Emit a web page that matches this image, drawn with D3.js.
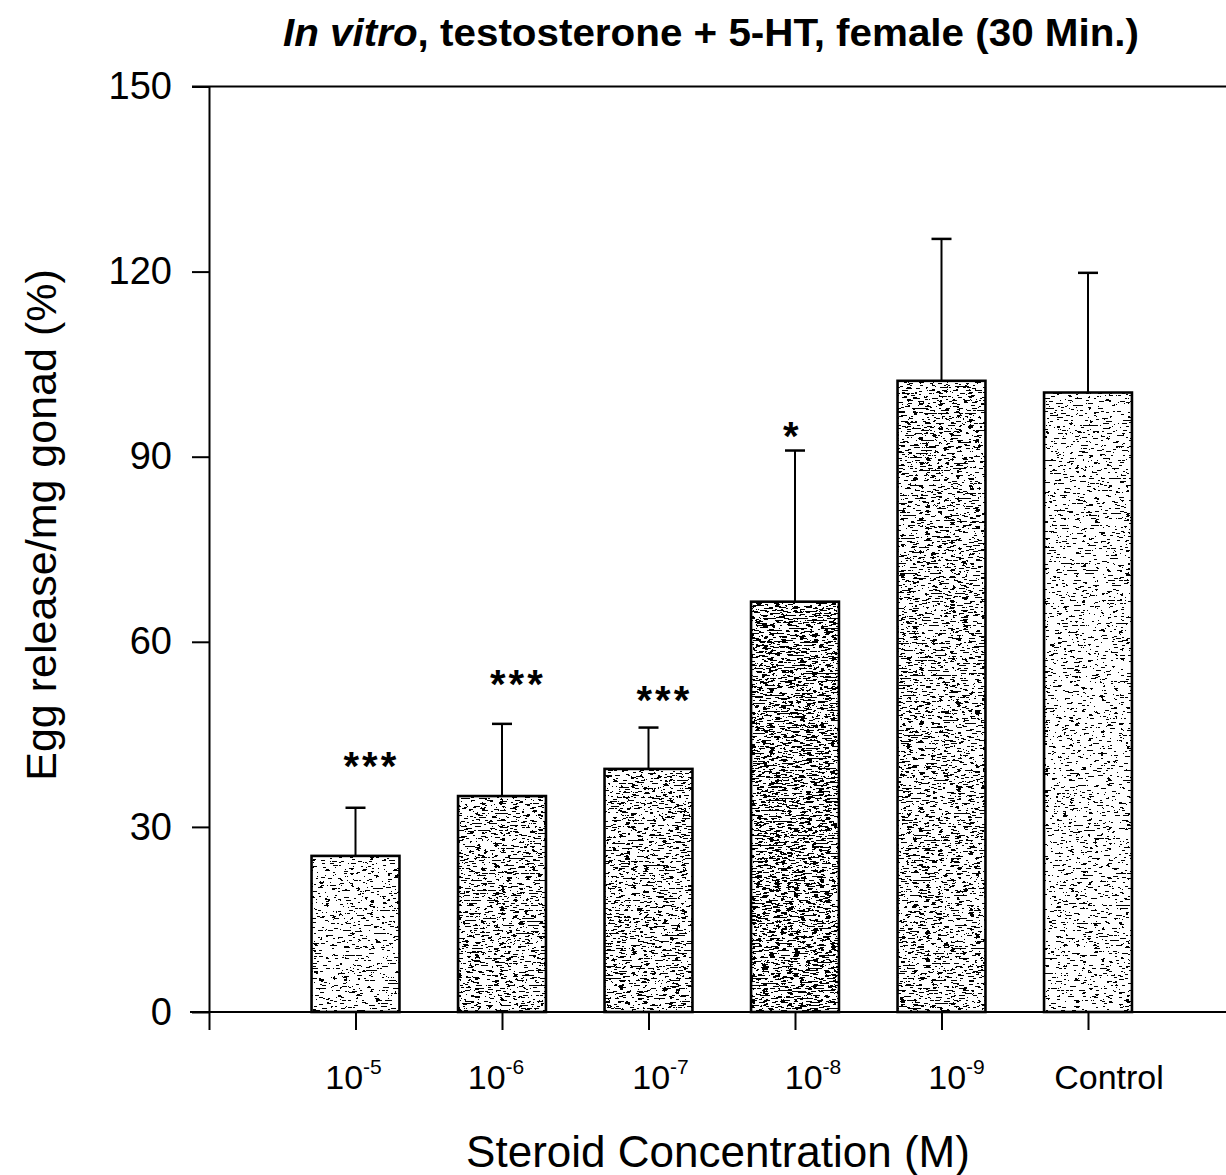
<!DOCTYPE html>
<html><head><meta charset="utf-8">
<script src="https://cdn.jsdelivr.net/npm/d3@7"></script>
<style>body{margin:0;background:#fff}svg{display:block}</style>
</head><body>
<svg id="chart" width="1226" height="1175"></svg>
<script>
// ---- data ----
const categories = ["10^-5", "10^-6", "10^-7", "10^-8", "10^-9", "Control"];
const tickBase = ["10", "10", "10", "10", "10", "Control"];
const tickExp = ["-5", "-6", "-7", "-8", "-9", ""];
const means = [25.3, 35.0, 39.4, 66.5, 102.3, 100.4];
const errors = [7.8, 11.7, 6.7, 24.5, 23.0, 19.4];
const stars = ["***", "***", "***", "*", "", ""];
const starLevels = [41.2, 54.5, 51.9, 94.7, null, null];
const yTicks = [0, 30, 60, 90, 120, 150];

// ---- styling (not data) ----
const labelNudge = [-2, -6, 12, 18, 15, 21];          // hand-placed label offsets in the original
const barTexture = ["light", "mid", "mid", "dark", "mid", "light"];
const textureCut = { light: 13, mid: 12, dark: 11 };   // of 20 levels

const W = 1226, H = 1175;
const svg = d3.select("#chart");
const font = "'Liberation Sans', Arial, Helvetica, sans-serif";

const x = d3.scaleLinear().domain([0, 7]).range([209, 1234.5]);
const y = d3.scaleLinear().domain([0, 150]).range([1012, 86.5]);

// stipple texture filters
const defs = svg.append("defs");
Object.entries(textureCut).forEach(([name, cut]) => {
  const f = defs.append("filter").attr("id", "stip-" + name)
    .attr("x", 0).attr("y", 0).attr("width", 1).attr("height", 1)
    .attr("color-interpolation-filters", "sRGB");
  f.append("feTurbulence").attr("type", "fractalNoise").attr("baseFrequency", "0.16 0.6")
    .attr("numOctaves", 3).attr("seed", 11).attr("result", "n");
  f.append("feColorMatrix").attr("in", "n").attr("type", "matrix")
    .attr("values", "0 0 0 0 0  0 0 0 0 0  0 0 0 0 0  1 0 0 0 0").attr("result", "a");
  const table = d3.range(20).map(k => (k < cut ? 0 : 1)).join(" ");
  f.append("feComponentTransfer").attr("in", "a").attr("result", "dots")
    .append("feFuncA").attr("type", "discrete").attr("tableValues", table);
  f.append("feComposite").attr("in", "dots").attr("in2", "SourceGraphic")
    .attr("operator", "in").attr("result", "d2");
  const m = f.append("feMerge");
  m.append("feMergeNode").attr("in", "SourceGraphic");
  m.append("feMergeNode").attr("in", "d2");
});

const halfW = (x(1) - x(0)) * 0.3;
const data = categories.map((c, i) => ({
  c, i, pos: i + 1, mean: means[i], err: errors[i], star: stars[i], starLevel: starLevels[i]
}));

// error bars (upper only)
const eb = svg.append("g").attr("stroke", "#000").attr("stroke-width", 2);
eb.selectAll("line.v").data(data).join("line")
  .attr("x1", d => x(d.pos)).attr("x2", d => x(d.pos))
  .attr("y1", d => y(d.mean)).attr("y2", d => y(d.mean + d.err));
eb.selectAll("line.c").data(data).join("line")
  .attr("x1", d => x(d.pos) - 10).attr("x2", d => x(d.pos) + 10)
  .attr("y1", d => y(d.mean + d.err)).attr("y2", d => y(d.mean + d.err))
  .attr("stroke-width", 2.5);

// bars
const bars = svg.append("g");
bars.selectAll("rect.fill").data(data).join("rect")
  .attr("x", d => x(d.pos) - halfW).attr("width", 2 * halfW)
  .attr("y", d => y(d.mean)).attr("height", d => y(0) - y(d.mean))
  .attr("fill", "#fff").attr("filter", d => `url(#stip-${barTexture[d.i]})`);
bars.selectAll("rect.edge").data(data).join("rect")
  .attr("x", d => x(d.pos) - halfW).attr("width", 2 * halfW)
  .attr("y", d => y(d.mean)).attr("height", d => y(0) - y(d.mean))
  .attr("fill", "none").attr("stroke", "#000").attr("stroke-width", 2.6);

// y axis
const yAxis = svg.append("g").attr("transform", `translate(${x(0)},0)`)
  .call(d3.axisLeft(y).tickValues(yTicks).tickSize(17).tickSizeOuter(0).tickPadding(20));
yAxis.select(".domain").attr("stroke-width", 2);
yAxis.selectAll(".tick line").attr("stroke-width", 2);
yAxis.selectAll(".tick text").attr("font-family", font).attr("font-size", 38).attr("fill", "#000");

// x axis
const xAxis = svg.append("g").attr("transform", `translate(0,${y(0)})`)
  .call(d3.axisBottom(x).tickValues([0, 1, 2, 3, 4, 5, 6]).tickSize(18).tickSizeOuter(0).tickFormat(""));
xAxis.select(".domain").remove();
xAxis.selectAll(".tick line").attr("stroke-width", 2);

// frame lines (bottom & top)
svg.append("line").attr("x1", x(0) - 19).attr("x2", W).attr("y1", y(0)).attr("y2", y(0))
  .attr("stroke", "#000").attr("stroke-width", 2.2);
svg.append("line").attr("x1", x(0) - 17).attr("x2", W).attr("y1", y(150)).attr("y2", y(150))
  .attr("stroke", "#000").attr("stroke-width", 2.2);

// x tick labels
const xl = svg.append("g").attr("font-family", font).attr("fill", "#000");
data.forEach(d => {
  const t = xl.append("text").attr("x", x(d.pos) + labelNudge[d.i]).attr("y", 1089)
    .attr("text-anchor", "middle").attr("font-size", 34);
  t.append("tspan").text(tickBase[d.i]);
  if (tickExp[d.i]) t.append("tspan").attr("font-size", 21).attr("dy", -15).text(tickExp[d.i]);
});

// significance stars
svg.append("g").selectAll("text").data(data.filter(d => d.star)).join("text")
  .attr("x", d => x(d.pos) - 12).attr("y", d => y(d.starLevel) + 22)
  .attr("font-family", font).attr("font-weight", "bold").attr("font-size", 40)
  .attr("letter-spacing", 3).text(d => d.star);

// axis titles
svg.append("text").attr("transform", "translate(56,525) rotate(-90)")
  .attr("text-anchor", "middle").attr("font-family", font).attr("font-size", 43)
  .text("Egg release/mg gonad (%)");
svg.append("text").attr("x", 718).attr("y", 1167)
  .attr("text-anchor", "middle").attr("font-family", font).attr("font-size", 44)
  .text("Steroid Concentration (M)");

// title
const title = svg.append("text").attr("x", 711).attr("y", 46).attr("text-anchor", "middle")
  .attr("font-family", font)
  .attr("font-weight", "bold").attr("font-size", 38)
  .attr("textLength", 856).attr("lengthAdjust", "spacingAndGlyphs");
title.append("tspan").attr("font-style", "italic").text("In vitro");
title.append("tspan").text(", testosterone + 5-HT, female (30 Min.)");
</script>
</body></html>
